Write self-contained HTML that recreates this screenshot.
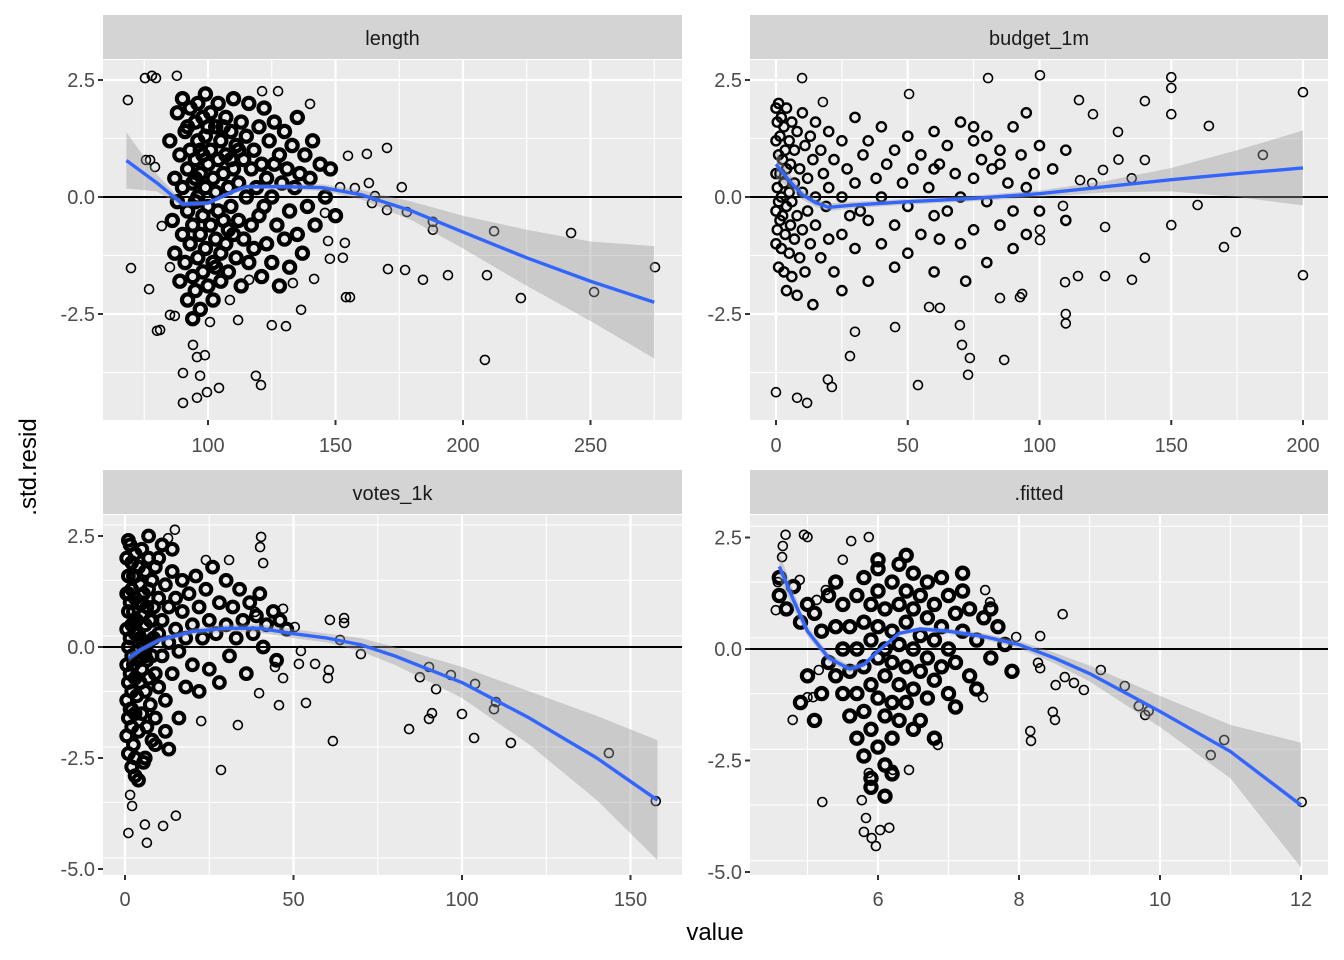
<!DOCTYPE html>
<html><head><meta charset="utf-8"><style>
html,body{margin:0;padding:0;background:#fff;}
svg{display:block;font-family:"Liberation Sans",Arial,sans-serif;}
</style></head><body>
<svg id="chart" width="1344" height="960" viewBox="0 0 1344 960" xmlns="http://www.w3.org/2000/svg">
<text x="715" y="940" font-size="24" text-anchor="middle" fill="#000">value</text>
<text transform="translate(36,467) rotate(-90)" font-size="24" text-anchor="middle" fill="#000">.std.resid</text>
</svg>
<script>
// ---- data ----
const panelNames = ["length","budget_1m","votes_1k",".fitted"];
const lengthOut = [68.6,2.07,69.8,-1.52,75.3,2.54,78,2.59,79.6,2.54,87.8,2.59,76.9,-1.97,80,-2.86,90.2,-4.4,95.7,-4.29,99.6,-4.17,104.3,-4.08,90.2,-3.76,96.9,-3.82,95.7,-3.42,94.1,-3.16,98.8,-3.38,100.8,-2.67,118.8,-3.82,120.8,-4.02,121.2,2.26,127.5,2.26,140,1.99,170.2,1.05,176,0.21,154.1,-2.14,155.7,-2.14,170.6,-1.54,177.3,-1.56,184.3,-1.77,194.1,-1.67,188.2,-0.7,188.2,-0.53,208.6,-3.48,209.4,-1.67,212.2,-0.73,222.7,-2.16,242.4,-0.77,251.4,-2.03,275.3,-1.5,141.6,-1.75,133.3,-1.84,130.6,-2.76,125,-2.74,136.5,-2.41,162.3,0.92,154.9,0.88,163.1,0.3,164.3,-0.13,170.2,-0.28,178,-0.32,153.7,-0.98,152.9,-1.3,147.8,-1.32,147.1,-0.94,145.9,-0.34,151.8,0.21,157.6,0.19,165.5,0.02,85.1,-1.5,81.9,-0.62,79.2,0.64,77.3,0.79,75.7,0.79,81.2,-2.84,85.1,-2.52,87,-2.54,108.6,-2.2,111.8,-2.63,116.1,-1.77];
const lengthCore = [85,1.2,86,-0.5,87,0.4,87,-1.2,88,1.8,88,-0.1,89,0.9,89,-1.8,90,2.1,90,0.2,90,-0.8,91,1.4,91,-1.4,92,0.6,92,-0.3,92,-2.2,93,1.9,93,1.0,93,-1.0,94,0.3,94,-0.6,94,-1.7,95,1.6,95,0.8,95,-0.1,95,-2.0,96,2.0,96,1.2,96,0.0,96,-1.3,97,0.5,97,-0.8,97,-2.4,98,1.7,98,0.9,98,-0.4,98,-1.6,99,2.2,99,1.3,99,0.2,99,-1.1,100,0.7,100,-0.2,100,-1.9,101,1.8,101,1.0,101,-0.6,102,0.4,102,-1.4,102,-2.2,103,1.5,103,0.1,103,-0.9,104,2.0,104,0.8,104,-0.3,105,1.2,105,-1.2,105,-1.8,106,0.5,106,-0.5,107,1.7,107,0.9,107,-1.0,108,0.2,108,-1.6,109,1.4,109,-0.2,110,2.1,110,0.6,110,-0.8,111,1.1,111,-1.3,112,0.3,112,-0.5,113,1.6,113,-1.9,114,0.8,114,-0.9,115,1.3,115,0.0,116,2.0,116,-1.4,117,0.6,117,-0.6,118,1.0,118,-1.1,119,0.2,120,1.5,120,-0.4,121,0.7,121,-1.7,122,1.9,122,-0.2,123,0.4,123,-1.0,124,1.2,125,0.0,125,-1.4,126,1.6,126,0.7,127,-0.6,128,0.9,128,-1.9,129,0.3,130,1.4,130,-0.9,131,0.6,132,-0.3,132,-1.5,133,1.1,134,0.2,135,-0.8,135,1.7,136,0.5,137,-1.2,138,0.9,139,-0.2,140,0.4,141,1.2,142,-0.6,144,0.7,146,0.0,148,0.6,150,-0.4,95,0.4,97,1.0,100,1.5,103,-1.5,106,1.5,109,0.8,112,1.0,108,-0.7,92,1.5,94,-2.6];
const budgetOut = [0,-4.17,8,-4.29,11.8,-4.4,19.7,-3.9,21.2,-4.06,53.9,-4.02,72.9,-3.8,73.6,-3.44,86.6,-3.48,200,2.24,200,-1.67,150,2.56,150,2.33,150,1.77,164.3,1.52,184.8,0.9,170,-1.07,174.5,-0.75,160,-0.17,150,-0.6,140,2.05,140,0.79,140,-1.3,135.1,-1.77,124.9,-1.69,124.9,-0.64,115,2.07,114.6,-1.69,100.2,2.6,100.2,-0.92,100.2,-0.7,108.9,-0.19,115.4,0.36,124.1,0.58,129.8,1.39,120.3,1.77,109.7,-1.82,93.4,-2.07,92.6,-2.14,85,-2.16,80.5,2.54,50.5,2.2,17.8,2.03,9.9,2.54,70.6,-3.16,69.8,-2.74,58.1,-2.35,62.2,-2.37,45.2,-2.78,30,-2.88,28.1,-3.4,110,-2.5,110,-2.7,130,0.8,135,0.4,120,0.3];
const budgetCore = [0,1.9,0,1.2,0,0.5,0,-0.3,0,-1.0,0.5,1.6,0.5,0.2,0.5,-0.7,1,2.0,1,0.9,1,-0.1,1,-1.5,1.5,1.3,1.5,0.5,1.5,-0.5,2,1.7,2,0.0,2,-1.1,2.5,0.8,2.5,-0.4,3,1.5,3,0.3,3,-1.6,3.5,1.0,3.5,-0.8,4,1.9,4,0.6,4,-0.2,4,-2.0,5,1.2,5,0.1,5,-1.2,5.5,0.7,5.5,-0.6,6,1.6,6,-0.1,6,-1.7,7,1.0,7,0.3,7,-0.9,8,1.4,8,-0.4,8,-2.1,9,0.6,9,-1.3,10,1.8,10,0.1,10,-0.7,11,1.1,11,-1.6,12,0.4,12,-0.3,13,1.3,13,-1.0,14,0.8,14,-2.3,15,0.0,15,1.6,15,-0.6,17,1.0,17,-1.3,18,0.5,19,-0.2,20,1.4,20,-0.9,20,0.2,22,0.8,22,-1.6,25,1.2,25,0.0,25,-0.8,25,-2.0,27,0.6,28,-0.4,30,1.7,30,0.3,30,-1.1,32,-0.3,33,0.9,35,1.2,35,-0.5,35,-1.8,38,0.4,40,1.5,40,0.0,40,-1.0,42,0.7,45,1.0,45,-0.6,45,-1.5,48,0.3,50,1.3,50,-0.2,50,-1.2,52,0.6,55,0.9,55,-0.8,58,0.2,60,1.4,60,-0.4,60,-1.6,62,0.7,65,1.1,65,-0.3,68,0.5,70,1.6,70,0.0,70,-1.0,72,-1.8,75,1.2,75,0.4,75,-0.7,78,0.8,80,1.3,80,-0.1,80,-1.4,82,0.6,85,1.0,85,-0.6,88,0.3,90,1.5,90,-0.3,90,-1.1,93,0.9,95,1.8,95,0.2,95,-0.8,98,0.5,100,1.1,100,-0.3,105,0.6,110,-0.5,110,1.0,60,0.6,62,-0.9,75,1.5,85,0.7];
const votesOut = [1,-4.19,6.5,-4.41,5.9,-4,11.3,-4.03,15.1,-3.8,1.5,-3.33,2.1,-3.58,28.5,-2.77,33.5,-1.76,22.6,-1.67,53.7,-1.26,61.7,-2.12,84.3,-1.85,90.2,-1.62,91.1,-1.49,92.3,-0.95,87.5,-0.68,90.2,-0.45,96.7,-0.63,100,-1.51,103.6,-2.05,103.9,-0.83,109.5,-1.4,110.1,-1.24,114.5,-2.16,143.6,-2.39,157.5,-3.47,40.4,2.48,40.1,2.25,41,1.89,30.9,1.96,14.8,2.64,12.8,2.45,24,1.96,60.8,0.61,65,0.65,65,0.54,63.8,0.16,70,-0.16,52.2,-0.09,51.6,-0.38,56.4,-0.38,60.2,-0.7,60.5,-0.52,46.9,-0.7,44.5,-0.45,39.8,-1.04,45.7,-1.31,50.4,0.45,46.9,0.86,38.6,0.79];
const votesCore = [0.5,2.0,0.5,1.2,0.5,0.4,0.5,-0.4,0.5,-1.2,0.5,-2.0,1,1.6,1,0.8,1,0.0,1,-0.8,1,-1.6,1,-2.4,1.5,2.3,1.5,1.0,1.5,0.2,1.5,-0.6,1.5,-1.4,2,1.9,2,1.3,2,0.5,2,-0.2,2,-1.0,2,-1.8,2.5,1.6,2.5,0.8,2.5,-0.4,2.5,-2.2,3,2.1,3,1.1,3,0.3,3,-0.7,3,-1.5,3.5,0.6,3.5,-0.1,3.5,-1.1,4,1.8,4,1.0,4,-0.3,4,-1.9,4.5,1.4,4.5,0.2,4.5,-0.8,5,2.2,5,0.7,5,-0.5,5,-1.5,5.5,1.2,5.5,0.0,5.5,-2.6,6,1.7,6,0.5,6,-1.0,6.5,0.9,6.5,-0.3,6.5,-1.8,7,2.0,7,1.3,7,0.1,7,-0.7,7.5,0.6,7.5,-1.3,8,1.5,8,-0.2,8,-2.1,8.5,0.9,8.5,0.2,9,1.8,9,-0.6,9,-1.6,10,1.1,10,0.3,10,-0.9,11,2.3,11,0.6,11,-0.2,12,1.4,12,-1.2,13,0.9,13,0.1,14,1.7,14,-0.6,15,0.4,15,1.1,16,-0.1,16,-1.6,17,0.8,17,1.5,18,0.2,18,-0.9,19,1.2,20,0.5,20,-0.4,21,1.6,22,0.9,22,-1.0,23,0.2,24,1.3,25,0.6,25,-0.5,26,1.8,27,0.3,28,1.0,28,-0.8,30,0.5,30,1.5,31,-0.2,32,0.9,33,0.2,34,1.3,35,0.6,36,-0.6,37,1.0,38,0.3,39,0.7,40,1.2,41,0.0,42,0.5,44,0.8,45,-0.3,46,0.6,48,0.4,3,-2.9,2,-2.7,4,-3.0,6,-2.5,9,-2.2,12,-1.9,13,-2.3,7,2.5,10,2.0,14,2.2,1,2.4,3,-2.5,1,1.2,2,-1.4,4,0.3,6,-0.2,8,0.6,3,1.6,5,1.0];
const fittedOut = [5.21,-3.43,5.8,-4.1,5.91,-4.24,5.97,-4.42,6.03,-4.06,6.16,-4.01,5.83,-3.79,5.77,-3.39,5.87,-2.78,6.21,-2.71,6.44,-2.71,6.85,-2.15,7.49,-1.08,8.16,-1.84,8.17,-2.06,8.48,-1.41,8.51,-1.59,12.01,-3.43,10.72,-2.38,10.91,-2.04,9.7,-1.28,9.79,-1.48,9.84,-1.39,9.5,-0.83,9.16,-0.47,8.92,-0.92,8.78,-0.76,8.65,-0.63,8.52,-0.81,8.3,-0.43,8.27,-0.31,7.96,0.27,8.3,0.29,8.62,0.78,7.52,1.32,7.59,1.05,4.58,1.5,4.55,0.87,4.64,2.06,4.65,2.31,4.69,2.56,4.95,2.56,5,2.51,4.79,-1.59,5,-1.08,5.08,-1.08,5.16,-0.47,4.89,1.55,5.13,1.1,5.26,1.32,5.5,2,5.62,2.42,5.87,2.51];
const fittedCore = [5.6,0.5,5.6,-0.5,5.6,-1.5,5.7,1.2,5.7,0.0,5.7,-1.0,5.7,-2.0,5.8,1.6,5.8,0.6,5.8,-0.4,5.8,-1.4,5.8,-2.4,5.9,1.0,5.9,0.2,5.9,-0.8,5.9,-1.8,5.9,-2.9,6.0,1.8,6.0,1.3,6.0,0.5,6.0,-0.2,6.0,-1.1,6.0,-2.2,6.1,0.9,6.1,0.0,6.1,-0.6,6.1,-1.5,6.1,-2.6,6.2,1.5,6.2,0.4,6.2,-0.3,6.2,-1.2,6.2,-2.0,6.3,1.9,6.3,1.0,6.3,0.1,6.3,-0.8,6.3,-1.6,6.4,1.3,6.4,0.6,6.4,-0.4,6.4,-1.2,6.5,1.7,6.5,0.9,6.5,0.0,6.5,-0.9,6.5,-1.8,6.6,1.2,6.6,0.3,6.6,-0.5,6.7,1.5,6.7,0.7,6.7,-0.2,6.7,-1.1,6.8,1.0,6.8,0.2,6.8,-0.7,6.9,1.6,6.9,0.5,6.9,-0.4,7.0,1.2,7.0,0.0,7.0,-1.0,7.1,0.8,7.1,-0.3,7.2,1.3,7.2,0.4,7.3,-0.6,7.3,0.9,7.4,0.2,7.5,0.7,7.6,-0.2,7.7,0.5,7.8,0.1,5.5,0.0,5.5,-1.0,5.4,0.5,5.4,-0.6,5.3,-0.3,5.2,0.4,5.1,0.8,5.2,-1.0,5.5,1.0,5.4,1.5,5.3,1.2,6.0,2.0,6.4,2.1,6.2,-2.8,5.9,-3.1,6.1,-3.3,6.6,-1.6,6.8,-2.0,7.1,-1.3,7.4,-0.9,7.6,0.9,7.9,-0.5,7.2,1.7,4.6,1.6,4.6,1.2,4.7,0.9,4.8,1.4,4.9,0.6,5.0,1.0,5.0,-0.6,4.9,-1.2,5.1,-1.6];
// smooth fits: x, fitted y, standard-error half-width
const lengthFitX = [68,80,90,100,110,115,130,145,160,180,200,225,250,275];
const lengthFitY = [0.78,0.3,-0.15,-0.13,0.12,0.22,0.22,0.2,0.05,-0.3,-0.75,-1.3,-1.8,-2.25];
const lengthFitSe = [0.6,0.18,0.06,0.05,0.05,0.05,0.06,0.07,0.1,0.2,0.35,0.6,0.85,1.2];
const budgetFitX = [0,5,10,15,20,30,50,75,100,125,150,175,200];
const budgetFitY = [0.7,0.35,0.05,-0.12,-0.22,-0.17,-0.1,-0.03,0.07,0.22,0.37,0.5,0.62];
const budgetFitSe = [0.3,0.15,0.1,0.09,0.08,0.07,0.06,0.06,0.07,0.12,0.25,0.5,0.8];
const votesFitX = [1,5,10,20,30,40,50,60,70,80,100,120,140,158];
const votesFitY = [-0.25,-0.05,0.15,0.35,0.42,0.42,0.3,0.2,0.05,-0.2,-0.8,-1.6,-2.5,-3.45];
const votesFitSe = [0.1,0.06,0.06,0.07,0.08,0.09,0.1,0.1,0.15,0.2,0.35,0.6,0.95,1.35];
const fittedFitX = [4.6,4.8,5.0,5.3,5.6,5.8,6.0,6.3,6.6,7,7.5,8,8.5,9,10,11,12];
const fittedFitY = [1.85,1.1,0.4,-0.2,-0.45,-0.35,-0.05,0.35,0.45,0.4,0.28,0.1,-0.2,-0.55,-1.4,-2.3,-3.5];
const fittedFitSe = [0.3,0.2,0.12,0.1,0.08,0.06,0.05,0.05,0.05,0.06,0.07,0.08,0.12,0.18,0.35,0.6,1.4];
// ticks
const lengthTicks = [100,150,200,250];
const budgetTicks = [0,50,100,150,200];
const votesTicks = [0,50,100,150];
const fittedTicks = [6,8,10,12];
const topYTicks = [2.5,0,-2.5];
const topYLabels = ["2.5","0.0","-2.5"];
const botYTicks = [2.5,0,-2.5,-5];
const botYLabels = ["2.5","0.0","-2.5","-5.0"];

// ---- layout ----
const NS="http://www.w3.org/2000/svg";
const svg=document.getElementById('chart');
function mk(tag,attrs,parent){const e=document.createElementNS(NS,tag);for(const k in attrs)e.setAttribute(k,attrs[k]);(parent||svg).appendChild(e);return e;}
const panels=[
 {name:panelNames[0],key:'length',L:103,R:682,T:60,B:420,sT:15,x:v=>208+(v-100)*2.55,y:v=>197-v*46.8,xt:lengthTicks,xminor:25,xr:[50,300],yt:topYTicks,yl:topYLabels,yr:[-5,3],out:lengthOut,core:lengthCore,fx:lengthFitX,fy:lengthFitY,fs:lengthFitSe,xlab:452,cr:5.6,cw:4.2},
 {name:panelNames[1],key:'budget',L:750,R:1328,T:60,B:420,sT:15,x:v=>776+v*2.635,y:v=>197-v*46.8,xt:budgetTicks,xminor:25,xr:[-25,225],yt:topYTicks,yl:topYLabels,yr:[-5,3],out:budgetOut,core:budgetCore,fx:budgetFitX,fy:budgetFitY,fs:budgetFitSe,xlab:452,cr:4.6,cw:2.4},
 {name:panelNames[2],key:'votes',L:103,R:682,T:515,B:875,sT:470,x:v=>125+v*3.37,y:v=>647-v*44.4,xt:votesTicks,xminor:25,xr:[-25,175],yt:botYTicks,yl:botYLabels,yr:[-6,3],out:votesOut,core:votesCore,fx:votesFitX,fy:votesFitY,fs:votesFitSe,xlab:906,cr:5.4,cw:4},
 {name:panelNames[3],key:'fitted',L:750,R:1328,T:515,B:875,sT:470,x:v=>878+(v-6)*70.5,y:v=>649-v*44.6,xt:fittedTicks,xminor:1,xr:[3,13],yt:botYTicks,yl:botYLabels,yr:[-6,3],out:fittedOut,core:fittedCore,fx:fittedFitX,fy:fittedFitY,fs:fittedFitSe,xlab:906,cr:5.6,cw:4.2}
];
panels.forEach((p,i)=>{
 const g=mk('g',{});
 
 
 const cid='clip'+i;
 const cp=mk('clipPath',{id:cid},g);mk('rect',{x:p.L,y:p.T,width:p.R-p.L,height:p.B-p.T},cp);
 const bg=mk('rect',{x:p.L,y:p.T,width:p.R-p.L,height:p.B-p.T,fill:'#ebebeb'},g);
 
 
 const st=mk('rect',{x:p.L,y:p.sT,width:p.R-p.L,height:p.T-p.sT-1,fill:'#d4d4d4'},g);
 
 
 const stt=mk('text',{x:(p.L+p.R)/2,y:p.sT+30,'font-size':'20','text-anchor':'middle',fill:'#1a1a1a'},g);stt.textContent=p.name;
 
 
 const cg=mk('g',{'clip-path':'url(#'+cid+')'},g);
 const step=p.xt[1]-p.xt[0];
 for(let v=Math.ceil(p.xr[0]/p.xminor)*p.xminor;v<=p.xr[1];v+=p.xminor){
  const major=Math.abs(v/step-Math.round(v/step))<1e-6;
  mk('line',{x1:p.x(v),x2:p.x(v),y1:p.T,y2:p.B,stroke:'#fff','stroke-width':major?2.2:1.1},cg);
 }
 for(let v=p.yr[0];v<=p.yr[1];v+=1.25){
  const major=Math.abs(v/2.5-Math.round(v/2.5))<1e-6;
  mk('line',{x1:p.L,x2:p.R,y1:p.y(v),y2:p.y(v),stroke:'#fff','stroke-width':major?2.2:1.1},cg);
 }
 const zl=mk('line',{x1:p.L,x2:p.R,y1:p.y(0),y2:p.y(0),stroke:'#000','stroke-width':2},cg);
 
 
 const cgp=mk('g',{fill:'none',stroke:'#000','stroke-width':p.cw},cg);
 
 
 for(let k=0;k<p.core.length;k+=2){
  const c=mk('circle',{cx:p.x(p.core[k]).toFixed(1),cy:p.y(p.core[k+1]).toFixed(1),r:p.cr},cgp);
  
  
 }
 const pg=mk('g',{fill:'none',stroke:'#000','stroke-width':1.6},cg);
 
 
 for(let k=0;k<p.out.length;k+=2){
  const c=mk('circle',{cx:p.x(p.out[k]).toFixed(1),cy:p.y(p.out[k+1]).toFixed(1),r:4.5},pg);
  
  
 }
 let up=[],lo=[],ln=[];
 p.fx.forEach((xv,j)=>{up.push(p.x(xv)+','+p.y(p.fy[j]+p.fs[j]));lo.unshift(p.x(xv)+','+p.y(p.fy[j]-p.fs[j]));ln.push(p.x(xv)+','+p.y(p.fy[j]));});
 const rb=mk('polygon',{points:up.concat(lo).join(' '),fill:'#999','fill-opacity':0.4},cg);
 
 
 const sl=mk('polyline',{points:ln.join(' '),fill:'none',stroke:'#3366FF','stroke-width':3.4,'stroke-linejoin':'round'},cg);
 
 
 p.xt.forEach(v=>{
  mk('line',{x1:p.x(v),x2:p.x(v),y1:p.B,y2:p.B+5,stroke:'#333','stroke-width':2},g);
  const t=mk('text',{x:p.x(v),y:p.xlab,'font-size':'20','text-anchor':'middle',fill:'#4d4d4d'},g);t.textContent=v;
  
  
 });
 p.yt.forEach((v,j)=>{
  mk('line',{x1:p.L-5,x2:p.L,y1:p.y(v),y2:p.y(v),stroke:'#333','stroke-width':2},g);
  const t=mk('text',{x:p.L-8,y:p.y(v)+7,'font-size':'20','text-anchor':'end',fill:'#4d4d4d'},g);t.textContent=p.yl[j];
  
  
 });
});
</script>
</body></html>
